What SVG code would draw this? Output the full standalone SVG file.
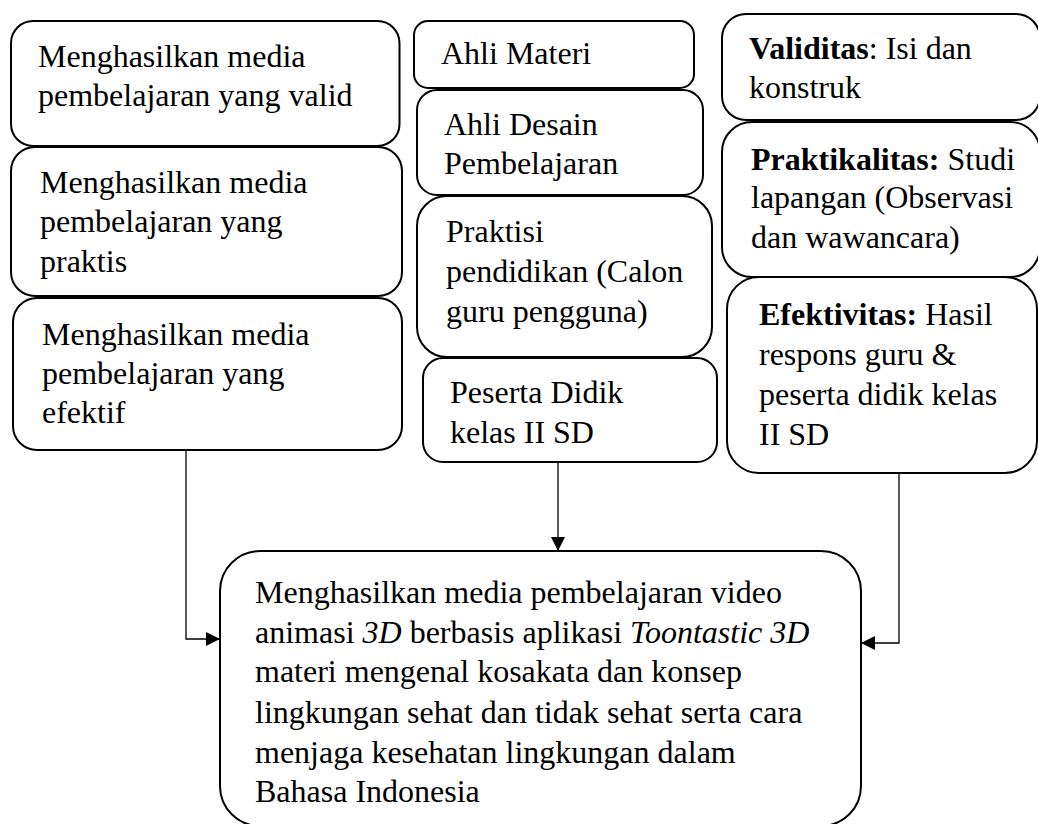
<svg xmlns="http://www.w3.org/2000/svg" width="1038" height="824" viewBox="0 0 1038 824">
<style>
.box{fill:#fff;stroke:#000;stroke-width:2}
.t{font-family:"Liberation Serif","Times New Roman",serif;font-size:32px;fill:#000}
.b{font-weight:bold}
.i{font-style:italic}
.c{fill:none;stroke:#000;stroke-width:1.3}
</style>
<defs>
<marker id="ah" markerUnits="userSpaceOnUse" markerWidth="14" markerHeight="14" refX="14" refY="7" orient="auto">
<path d="M0,0 L14,7 L0,14 z" fill="#000"/>
</marker>
</defs>
<rect width="1038" height="824" fill="#fff"/>
<g id="n1"><rect class="box" x="11" y="21" width="388.5" height="125" rx="22"/>
<text class="t" x="38" y="67">Menghasilkan media</text><text class="t" x="38" y="106">pembelajaran yang valid</text></g>
<g id="n2"><rect class="box" x="11" y="147" width="391" height="149" rx="24"/>
<text class="t" x="40" y="193">Menghasilkan media</text><text class="t" x="40" y="232">pembelajaran yang</text><text class="t" x="40" y="272">praktis</text></g>
<g id="n3"><rect class="box" x="13" y="298" width="389" height="152" rx="24"/>
<text class="t" x="42" y="345">Menghasilkan media</text><text class="t" x="42" y="384">pembelajaran yang</text><text class="t" x="42" y="423">efektif</text></g>
<g id="n4"><rect class="box" x="414" y="21" width="280" height="67" rx="14"/>
<text class="t" x="441" y="64">Ahli Materi</text></g>
<g id="n5"><rect class="box" x="417" y="90" width="286" height="105" rx="20"/>
<text class="t" x="444" y="135">Ahli Desain</text><text class="t" x="444" y="174">Pembelajaran</text></g>
<g id="n6"><rect class="box" x="417" y="196" width="295" height="161" rx="30"/>
<text class="t" x="446" y="242">Praktisi</text><text class="t" x="446" y="282">pendidikan (Calon</text><text class="t" x="446" y="322">guru pengguna)</text></g>
<g id="n7"><rect class="box" x="423" y="358" width="294" height="104" rx="20"/>
<text class="t" x="450" y="403">Peserta Didik</text><text class="t" x="450" y="443">kelas II SD</text></g>
<g id="n8"><rect class="box" x="722" y="14" width="318" height="106" rx="24"/>
<text class="t" x="749" y="59"><tspan class="b">Validitas</tspan>: Isi dan</text><text class="t" x="749" y="98">konstruk</text></g>
<g id="n9"><rect class="box" x="722" y="122" width="318" height="155" rx="30"/>
<text class="t" x="751" y="170"><tspan class="b">Praktikalitas:</tspan> Studi</text><text class="t" x="751" y="208">lapangan (Observasi</text><text class="t" x="751" y="248">dan wawancara)</text></g>
<g id="n10"><rect class="box" x="727" y="277" width="310" height="196" rx="32"/>
<text class="t" x="759" y="325"><tspan class="b">Efektivitas:</tspan> Hasil</text><text class="t" x="759" y="365">respons guru &amp;</text><text class="t" x="759" y="405">peserta didik kelas</text><text class="t" x="759" y="445">II SD</text></g>
<g id="n11"><rect class="box" x="220" y="551" width="641" height="275" rx="40"/>
<text class="t" x="255" y="603">Menghasilkan media pembelajaran video</text>
<text class="t" x="255" y="643">animasi <tspan class="i">3D</tspan> berbasis aplikasi <tspan class="i">Toontastic 3D</tspan></text>
<text class="t" x="255" y="682">materi mengenal kosakata dan konsep</text>
<text class="t" x="255" y="723">lingkungan sehat dan tidak sehat serta cara</text>
<text class="t" x="255" y="763">menjaga kesehatan lingkungan dalam</text>
<text class="t" x="255" y="802">Bahasa Indonesia</text></g>
<g id="connectors">
<path class="c" d="M186,450 V639 H220" marker-end="url(#ah)"/>
<path class="c" d="M558,462 V551" marker-end="url(#ah)"/>
<path class="c" d="M899,473 V643 H861" marker-end="url(#ah)"/>
</g>
</svg>
